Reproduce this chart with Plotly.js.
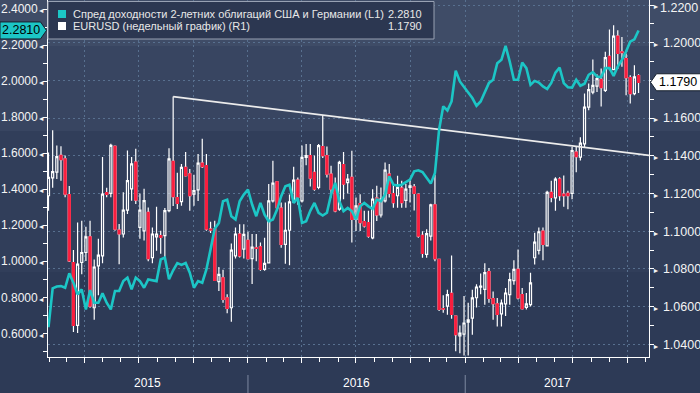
<!DOCTYPE html>
<html><head><meta charset="utf-8">
<script src="https://cdn.plot.ly/plotly-3.0.1.min.js"></script>
<style>html,body{margin:0;padding:0;background:#2d3a56;}#chart{width:700px;height:393px;}</style>
</head><body><div id="chart"></div>
<script>
// ---- Data (weekly bars, week ending Friday) ----
var firstWeek = '2015-01-30';
var eurOpen = [1.1188,1.1283,1.1313,1.1402,1.1384,1.1194,1.0834,1.0500,1.0834,1.0887,
1.0970,1.0594,1.0816,1.0869,1.1205,1.1201,1.1450,1.1006,1.0985,1.1112,
1.1224,1.1366,1.1020,1.1002,1.1100,1.0860,1.0970,1.0976,1.0976,1.1109,
1.1370,1.1178,1.1157,1.1339,1.1304,1.1197,1.1219,1.1361,1.1348,1.1011,
1.1011,1.0732,1.0753,1.0647,1.0594,1.0869,1.0985,1.0905,1.0951,1.0855,
1.0912,1.0917,1.0797,1.0832,1.1161,1.1262,1.1122,1.0930,1.1005,1.1156,
1.1271,1.1161,1.1392,1.1401,1.1312,1.1232,1.1449,1.1401,1.1303,1.1241,
1.1117,1.1353,1.1258,1.1285,1.1063,1.1147,1.1051,1.1045,1.0965,1.1175,
1.1086,1.1161,1.1303,1.1200,1.1188,1.1228,1.1164,1.1232,1.1235,1.1196,
1.0978,1.0877,1.0974,1.1140,1.0850,1.0590,1.0602,1.0670,1.0549,1.0445,
1.0454,1.0518,1.0539,1.0647,1.0703,1.0691,1.0785,1.0642,1.0615,1.0561,
1.0614,1.0664,1.0738,1.0797,1.0664,1.0596,1.0610,1.0859,1.0898,1.1001,
1.0922,1.1206,1.1177,1.1276,1.1197,1.1201,1.1201,1.1419,1.1393,1.1463,
1.1658,1.1738,1.1770,1.1806,1.1747,1.1928,1.1857,1.2035,1.1952,1.1916,
1.1815,1.1730,1.1826];
var eurHigh = [1.1417,1.1535,1.1455,1.1450,1.1402,1.1240,1.0900,1.1046,1.1055,1.1023,
1.1055,1.0850,1.0960,1.1393,1.1230,1.1464,1.1455,1.1038,1.1206,1.1428,
1.1393,1.1437,1.1200,1.1225,1.1126,1.1020,1.1130,1.1002,1.1123,1.1440,
1.1714,1.1310,1.1357,1.1420,1.1330,1.1300,1.1410,1.1490,1.1410,1.1050,
1.1055,1.0810,1.0795,1.0665,1.0935,1.1020,1.1037,1.1037,1.0997,1.0985,
1.0985,1.0940,1.0965,1.1250,1.1374,1.1262,1.1152,1.1152,1.1195,1.1342,
1.1285,1.1454,1.1463,1.1463,1.1401,1.1463,1.1616,1.1449,1.1347,1.1285,
1.1374,1.1420,1.1303,1.1427,1.1179,1.1196,1.1108,1.1108,1.1223,1.1241,
1.1232,1.1365,1.1356,1.1250,1.1294,1.1268,1.1250,1.1276,1.1250,1.1200,
1.1000,1.1010,1.1145,1.1300,1.0850,1.0660,1.0690,1.0871,1.0549,1.0500,
1.0656,1.0620,1.0690,1.0718,1.0775,1.0830,1.0805,1.0680,1.0645,1.0637,
1.0699,1.0779,1.0846,1.0903,1.0699,1.0672,1.0779,1.0992,1.1019,1.1019,
1.1215,1.1268,1.1286,1.1286,1.1295,1.1215,1.1446,1.1446,1.1499,1.1730,
1.1783,1.1911,1.1832,1.1863,1.1952,1.2070,1.2093,1.2066,1.2030,1.1943,
1.1827,1.1880,1.1833];
var eurLow = [1.1108,1.1230,1.1277,1.1267,1.1180,1.0836,1.0465,1.0460,1.0772,1.0842,
1.0594,1.0530,1.0660,1.0830,1.1180,1.1180,1.1002,1.0825,1.0967,1.1091,
1.1162,1.1144,1.0960,1.0950,1.0841,1.0830,1.0896,1.0880,1.0860,1.1100,
1.1134,1.1118,1.1135,1.1290,1.1108,1.1135,1.1160,1.1335,1.1002,1.0990,
1.0736,1.0683,1.0620,1.0565,1.0520,1.0855,1.0860,1.0855,1.0850,1.0720,
1.0840,1.0790,1.0790,1.0832,1.1152,1.1116,1.0912,1.0827,1.0820,1.1150,
1.1140,1.1152,1.1350,1.1237,1.1214,1.1223,1.1388,1.1285,1.1179,1.1100,
1.1108,1.1170,1.1200,1.0940,1.1001,1.1001,1.1019,1.0965,1.0957,1.1054,
1.1072,1.1152,1.1179,1.1125,1.1125,1.1125,1.1125,1.1152,1.1110,1.0965,
1.0859,1.0859,1.0950,1.0840,1.0576,1.0568,1.0557,1.0536,1.0363,1.0352,
1.0340,1.0340,1.0450,1.0595,1.0665,1.0610,1.0620,1.0530,1.0495,1.0495,
1.0550,1.0610,1.0716,1.0637,1.0584,1.0584,1.0601,1.0823,1.0877,1.0846,
1.0920,1.1153,1.1108,1.1161,1.1130,1.1117,1.1170,1.1313,1.1375,1.1446,
1.1641,1.1726,1.1738,1.1662,1.1738,1.1854,1.1854,1.1860,1.1872,1.1721,
1.1677,1.1721,1.1733];
var eurClose = [1.1286,1.1316,1.1396,1.1379,1.1197,1.0842,1.0500,1.0825,1.0887,1.0970,
1.0603,1.0810,1.0873,1.1197,1.1195,1.1455,1.1011,1.0985,1.1112,1.1268,
1.1357,1.1165,1.1112,1.1162,1.0855,1.0985,1.0985,1.0967,1.1109,1.1384,
1.1183,1.1148,1.1339,1.1295,1.1188,1.1215,1.1361,1.1343,1.1011,1.1006,
1.0739,1.0771,1.0638,1.0590,1.0900,1.0985,1.0869,1.0983,1.0855,1.0916,
1.0909,1.0797,1.0829,1.1161,1.1255,1.1125,1.0930,1.1005,1.1156,1.1271,
1.1179,1.1392,1.1401,1.1282,1.1223,1.1454,1.1401,1.1303,1.1223,1.1108,
1.1365,1.1250,1.1276,1.1063,1.1134,1.1045,1.1028,1.0974,1.1170,1.1086,
1.1170,1.1324,1.1200,1.1152,1.1232,1.1152,1.1223,1.1241,1.1200,1.0974,
1.0882,1.0987,1.1140,1.0855,1.0585,1.0587,1.0664,1.0558,1.0451,1.0459,
1.0513,1.0530,1.0646,1.0704,1.0709,1.0780,1.0643,1.0615,1.0558,1.0619,
1.0672,1.0743,1.0797,1.0646,1.0589,1.0614,1.0726,1.0942,1.0997,1.0930,
1.1206,1.1179,1.1276,1.1188,1.1188,1.1188,1.1428,1.1396,1.1467,1.1658,
1.1751,1.1774,1.1809,1.1762,1.1921,1.1863,1.2035,1.1943,1.1947,1.1815,
1.1730,1.1819,1.1790];
var spread2y = [0.634,0.85,0.86,0.862,0.853,0.933,0.881,0.816,0.844,0.733,
0.840,0.770,0.770,0.822,0.770,0.733,0.835,0.835,0.890,0.909,
0.844,0.909,0.890,0.853,0.899,0.895,0.890,1.01,1.02,0.90,
0.95,0.99,0.98,0.99,0.937,0.853,0.890,0.881,0.955,1.066,
1.18,1.213,1.333,1.342,1.250,1.232,1.333,1.37,1.398,1.315,
1.250,1.324,1.259,1.222,1.232,1.287,1.361,1.416,1.425,1.324,
1.352,1.213,1.222,1.28,1.324,1.269,1.254,1.269,1.370,1.435,
1.333,1.278,1.296,1.278,1.232,1.305,1.324,1.305,1.291,1.342,
1.333,1.370,1.471,1.425,1.420,1.425,1.44,1.453,1.499,1.505,
1.495,1.462,1.431,1.49,1.73,1.86,1.837,1.887,2.058,1.998,
1.970,1.937,1.906,1.863,1.887,1.942,1.99,2.007,2.099,2.118,
2.195,2.108,2.007,2.007,2.103,2.072,1.979,2.001,1.992,1.970,
1.956,1.99,2.047,2.075,1.989,1.966,1.964,2.007,1.974,1.985,
2.035,2.050,2.025,2.022,2.072,2.072,2.029,2.081,2.118,2.164,
2.219,2.232,2.281];
var trendAnchorWeeks = [30, 66];   // weekly highs that define the resistance line
var leftTicks = [0.6,0.8,1.0,1.2,1.4,1.6,1.8,2.0,2.2,2.4];
var rightTicks = [1.04,1.06,1.08,1.10,1.12,1.14,1.16,1.18,1.20,1.22];
var yearLabels = ['2015','2016','2017'];
var legendNames = ['Спред доходности 2-летних облигаций США и Германии (L1)', 'EURUSD (недельный график) (R1)'];

// ---- Derived ----
var n = eurClose.length;
var DAY = 86400000;
var t0 = Date.parse(firstWeek + 'T00:00:00Z');
function ds(ms){ return new Date(ms).toISOString().replace('T',' ').slice(0,19); }
var dates = [];
for (var i = 0; i < n; i++) dates.push(ds(t0 + i*7*DAY));
var xStartMs = t0 - 0.85*DAY, xEndMs = t0 + 1011.6*DAY;
var xRange = [ds(xStartMs), ds(xEndMs)];

var redO = [], redC = [];
for (var i = 0; i < n; i++) {
  if (eurClose[i] < eurOpen[i]) { redO.push(eurOpen[i]); redC.push(eurClose[i]); }
  else { redO.push(null); redC.push(null); }
}
var a = trendAnchorWeeks[0], b = trendAnchorWeeks[1];
var tA = t0 + a*7*DAY, tB = t0 + b*7*DAY;
var vA = eurHigh[a], vB = eurHigh[b];
var vEnd = vA + (vB - vA) * (xEndMs - tA) / (tB - tA);

var lastSpread = spread2y[n-1], lastEur = eurClose[n-1];

// ---- Geometry helpers (page px -> paper) ----
var W = 700, H = 393, L = 48, R = 51, T = 0, B = 36;
var pw = W - L - R, ph = H - T - B;
function px(x){ return (x - L) / pw; }
function py(y){ return (T + ph - y) / ph; }
var rRange = [1.03326, 1.22265], lRange = [0.4688, 2.44994];
function rPix(v){ return (rRange[1] - v) / (rRange[1] - rRange[0]) * ph; }

var RED = '#fa1e3e', CYAN = '#1cc6c6', GRID = '#58708f';
var FONT = 'Liberation Sans, Arial, sans-serif';
var ARW_R = '<span style="font-size:7px">►</span> ';
var ARW_L = '<span style="font-size:7px">◄</span>';

var traces = [
  {type:'candlestick', x:dates, open:eurOpen, high:eurHigh, low:eurLow, close:eurClose,
   xaxis:'x', yaxis:'y', whiskerwidth:0,
   increasing:{line:{color:'#ffffff', width:1.2}, fillcolor:'rgba(0,0,0,0)'},
   decreasing:{line:{color:'#ffffff', width:1.2}, fillcolor:RED},
   hoverinfo:'skip', showlegend:false},
  {type:'candlestick', x:dates, open:redO, high:redO, low:redC, close:redC,
   xaxis:'x', yaxis:'y', whiskerwidth:0,
   increasing:{line:{color:'rgba(0,0,0,0)', width:1.2}, fillcolor:'rgba(0,0,0,0)'},
   decreasing:{line:{color:RED, width:1.2}, fillcolor:RED},
   hoverinfo:'skip', showlegend:false},
  {type:'scatter', mode:'lines', x:[ds(tA), ds(xEndMs)], y:[vA, vEnd],
   xaxis:'x', yaxis:'y', line:{color:'#ececec', width:1.8}, hoverinfo:'skip', showlegend:false},
  {type:'scatter', mode:'lines', x:dates, y:spread2y, xaxis:'x', yaxis:'y2',
   line:{color:CYAN, width:2.6}, hoverinfo:'skip', showlegend:false}
];

var shapes = [
  {type:'rect', xref:'paper', yref:'paper', x0:px(-5), x1:px(705), y0:py(0), y1:py(46), fillcolor:'#3f4c67', line:{width:0}, layer:'below'},
  {type:'rect', xref:'paper', yref:'paper', x0:px(-5), x1:px(705), y0:py(46), y1:py(131), fillcolor:'#384561', line:{width:0}, layer:'below'},
  {type:'rect', xref:'paper', yref:'paper', x0:px(-5), x1:px(705), y0:py(131), y1:py(272), fillcolor:'#313e5a', line:{width:0}, layer:'below'},
  {type:'rect', xref:'paper', yref:'paper', x0:px(-5), x1:px(705), y0:py(272), y1:py(398), fillcolor:'#2d3a56', line:{width:0}, layer:'below'},
  // legend box
  {type:'rect', xref:'paper', yref:'paper', x0:px(48), x1:px(434), y0:py(1.5), y1:py(39), fillcolor:'#2c3751', line:{color:'#98a1b3', width:1}, layer:'above'},
  {type:'rect', xref:'paper', yref:'paper', x0:px(58), x1:px(66), y0:py(10), y1:py(18), fillcolor:CYAN, line:{width:0}, layer:'above'},
  {type:'rect', xref:'paper', yref:'paper', x0:px(58), x1:px(66), y0:py(22), y1:py(30), fillcolor:'#ffffff', line:{width:0}, layer:'above'},
  // current value tags
  {type:'path', xref:'paper', yref:'y2', xsizemode:'pixel', ysizemode:'pixel', xanchor:0, yanchor:lastSpread,
   path:'M-48,-8.5L-7.5,-8.5L-1.5,0L-7.5,8.5L-48,8.5Z', fillcolor:CYAN, line:{color:'#16202e', width:1}, layer:'above'},
  {type:'path', xref:'paper', yref:'y', xsizemode:'pixel', ysizemode:'pixel', xanchor:1, yanchor:lastEur,
   path:'M1.5,0L7.5,-8.5L52,-8.5L52,8.5L7.5,8.5Z', fillcolor:'#ffffff', line:{color:'#16202e', width:1}, layer:'above'}
];
// year separators
['2016-01-01','2017-01-01'].forEach(function(d){
  shapes.push({type:'line', xref:'x', yref:'paper', x0:d, x1:d, y0:py(375), y1:py(393), line:{color:'#7d89a0', width:1}});
});

var annotations = [
  {xref:'paper', yref:'paper', x:px(71), y:py(14), xanchor:'left', yanchor:'middle', text:legendNames[0], showarrow:false, font:{family:FONT, size:11, color:'#e8e8e8'}},
  {xref:'paper', yref:'paper', x:px(71), y:py(26.5), xanchor:'left', yanchor:'middle', text:legendNames[1], showarrow:false, font:{family:FONT, size:11, color:'#e8e8e8'}},
  {xref:'paper', yref:'paper', x:px(424), y:py(14), xanchor:'right', yanchor:'middle', text:lastSpread.toFixed(4), showarrow:false, font:{family:FONT, size:11, color:'#e8e8e8'}},
  {xref:'paper', yref:'paper', x:px(424), y:py(26.5), xanchor:'right', yanchor:'middle', text:lastEur.toFixed(4), showarrow:false, font:{family:FONT, size:11, color:'#e8e8e8'}},
  {xref:'paper', yref:'y2', x:px(21), y:lastSpread, xanchor:'center', yanchor:'middle', text:lastSpread.toFixed(4), showarrow:false, font:{family:FONT, size:12.5, color:'#000000'}},
  {xref:'paper', yref:'y', x:px(678), y:lastEur, xanchor:'center', yanchor:'middle', text:lastEur.toFixed(4), showarrow:false, font:{family:FONT, size:12.5, color:'#000000'}}
];
// right tick labels: hide the one covered by the value tag, push the top one inside the picture
var rightText = rightTicks.map(function(v){
  if (Math.abs(v - lastEur) < 0.008) return ARW_R;
  if (rPix(v) < 8) {
    annotations.push({xref:'paper', yref:'y', x:px(658), y:v, yshift:-(8 - rPix(v)), xanchor:'left', yanchor:'middle',
      text:v.toFixed(4), showarrow:false, font:{family:FONT, size:12.5, color:'#f4f4f4'}});
    return ARW_R;
  }
  return ARW_R + v.toFixed(4);
});
// year labels centred on visible part of each year
yearLabels.forEach(function(yr){
  var s = Math.max(xStartMs, Date.parse(yr + '-01-01T00:00:00Z'));
  var e = Math.min(xEndMs, Date.parse((+yr + 1) + '-01-01T00:00:00Z'));
  annotations.push({xref:'x', yref:'paper', x:ds((s+e)/2), y:py(383), xanchor:'center', yanchor:'middle',
    text:yr, showarrow:false, font:{family:FONT, size:12, color:'#ffffff'}});
});

var layout = {
  width:W, height:H, margin:{l:L, r:R, t:T, b:B, pad:0},
  paper_bgcolor:'#2d3a56', plot_bgcolor:'rgba(0,0,0,0)',
  font:{family:FONT, color:'#ffffff'}, showlegend:false, hovermode:false,
  xaxis:{type:'date', range:xRange, showticklabels:false, showgrid:true, gridcolor:GRID, griddash:'2px,3px', gridwidth:1,
    tick0:'2015-01-01', dtick:'M3', ticks:'outside', ticklen:5, tickcolor:'#ffffff', tickwidth:1,
    showline:true, linecolor:'#ffffff', linewidth:1, zeroline:false, rangeslider:{visible:false},
    minor:{tick0:'2015-01-01', dtick:'M1', ticks:'outside', ticklen:4, tickcolor:'#ffffff', showgrid:false}},
  yaxis:{side:'right', range:rRange, tickmode:'array', tickvals:rightTicks, ticktext:rightText,
    ticklabeloverflow:'allow',
    showgrid:true, gridcolor:GRID, griddash:'2px,3px', gridwidth:1, zeroline:false,
    showline:true, linecolor:'#ffffff', linewidth:1, ticks:'',
    tickfont:{family:FONT, size:12.5, color:'#f4f4f4'},
    minor:{tick0:0, dtick:0.01, ticks:'outside', ticklen:4, tickcolor:'#ffffff', showgrid:false}},
  yaxis2:{overlaying:'y', side:'left', range:lRange, tickmode:'array', tickvals:leftTicks,
    ticktext:leftTicks.map(function(v){ return v.toFixed(4) + ARW_L; }),
    ticklabeloverflow:'allow',
    showgrid:false, zeroline:false, showline:true, linecolor:'#ffffff', linewidth:1, ticks:'',
    tickfont:{family:FONT, size:12, color:'#f4f4f4'},
    minor:{tick0:0, dtick:0.1, ticks:'outside', ticklen:4, tickcolor:'#ffffff', showgrid:false}},
  shapes:shapes, annotations:annotations
};

Plotly.newPlot('chart', traces, layout, {staticPlot:true, displayModeBar:false});
</script>
</body></html>
